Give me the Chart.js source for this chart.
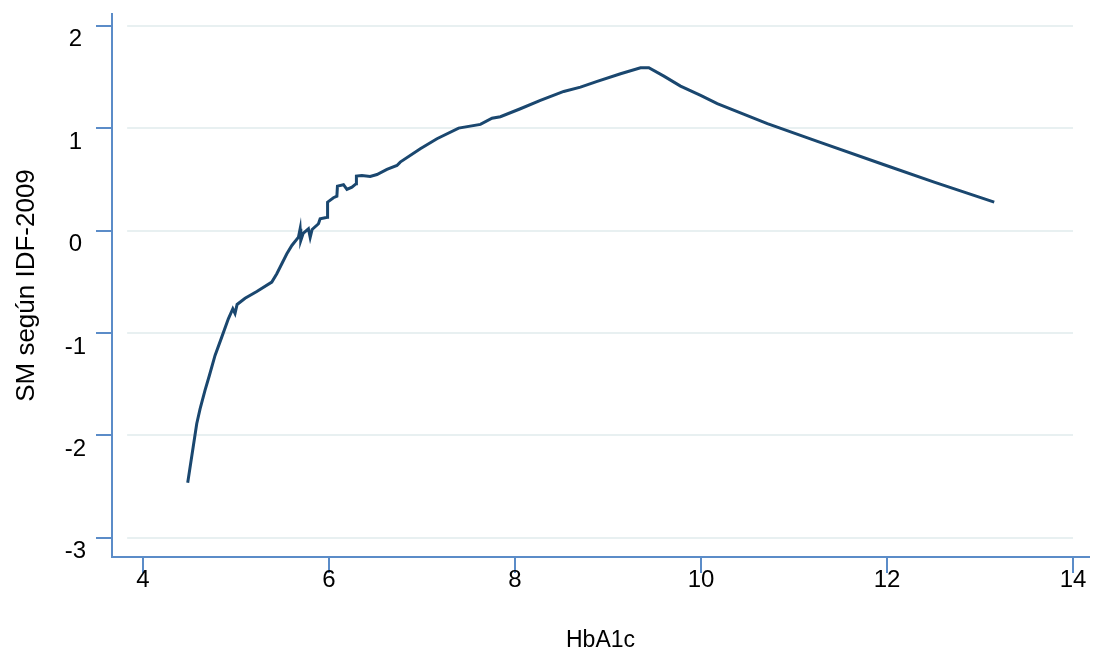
<!DOCTYPE html>
<html>
<head>
<meta charset="utf-8">
<script src="https://cdn.jsdelivr.net/npm/chart.js@4"></script>
<style>
  body { margin: 0; background: #fff; }
  #wrap { width: 1103px; height: 658px; }
</style>
</head>
<body>
<div id="wrap"><canvas id="chart"></canvas></div>
<script>
// values
const hba1c = [4.481, 4.578, 4.614, 4.667, 4.714, 4.775, 4.847, 4.918, 4.966, 4.99, 5.012, 5.098,
    5.224, 5.385, 5.439, 5.493, 5.547, 5.601, 5.672, 5.690, 5.697, 5.722, 5.779, 5.798, 5.819,
    5.887, 5.905, 5.984, 5.985, 6.048, 6.085, 6.091, 6.156, 6.193, 6.247, 6.293, 6.295, 6.354,
    6.443, 6.516, 6.623, 6.731, 6.766, 6.982, 7.161, 7.394, 7.628, 7.753, 7.843, 8.058, 8.273,
    8.524, 8.704, 8.884, 9.135, 9.350, 9.439, 9.601, 9.780, 9.996, 10.175, 10.714, 11.252,
    11.969, 12.507, 13.153];
const smIdf = [-2.463, -1.887, -1.741, -1.562, -1.416, -1.220, -1.041, -0.862, -0.764, -0.810,
    -0.722, -0.661, -0.595, -0.504, -0.422, -0.325, -0.227, -0.146, -0.065, 0.017, -0.097, -0.029,
    0.017, -0.068, 0.010, 0.066, 0.115, 0.130, 0.277, 0.320, 0.335, 0.433, 0.447, 0.401, 0.423,
    0.457, 0.531, 0.538, 0.528, 0.547, 0.596, 0.635, 0.668, 0.798, 0.896, 1.000, 1.036, 1.097,
    1.111, 1.189, 1.270, 1.358, 1.400, 1.456, 1.531, 1.589, 1.589, 1.507, 1.410, 1.319, 1.238,
    1.043, 0.870, 0.642, 0.472, 0.277];
const xTicks = [4, 6, 8, 10, 12, 14];
const yTicks = [-3, -2, -1, 0, 1, 2];

const axisBlue = '#5b8cc8';
const fontFam = "'Liberation Sans', Arial, sans-serif";

// light horizontal grid, inset from the axes like the original
const gridPlugin = {
    id: 'insetGrid',
    beforeDatasetsDraw(chart) {
        const { ctx, scales: { x, y } } = chart;
        const x0 = x.getPixelForValue(3.83);
        const x1 = x.getPixelForValue(14);
        ctx.save();
        ctx.strokeStyle = '#e8f0f1';
        ctx.lineWidth = 2;
        yTicks.forEach(v => {
            const py = Math.round(y.getPixelForValue(v));
            ctx.beginPath();
            ctx.moveTo(x0, py);
            ctx.lineTo(x1, py);
            ctx.stroke();
        });
        ctx.restore();
    }
};

new Chart(document.querySelector('#chart'), {
    type: 'line',
    data: {
        datasets: [{
            data: hba1c.map((v, i) => ({ x: v, y: smIdf[i] })),
            borderColor: '#1a476f',
            borderWidth: 3,
            pointRadius: 0,
            tension: 0
        }]
    },
    options: {
        responsive: true,
        maintainAspectRatio: false,
        animation: false,
        layout: { padding: { top: 14, right: 14, left: 0, bottom: 0 } },
        plugins: { legend: { display: false }, tooltip: { enabled: false } },
        scales: {
            x: {
                type: 'linear',
                min: 3.667,
                max: 14.172,
                afterBuildTicks: s => { s.ticks = xTicks.map(v => ({ value: v })); },
                afterFit: s => { s.height = 101; s.paddingLeft = 0; s.paddingRight = 0; },
                border: { color: axisBlue, width: 2 },
                grid: { drawOnChartArea: false, drawTicks: true, tickLength: 16, color: axisBlue, lineWidth: 2 },
                ticks: { padding: -7, maxRotation: 0, color: '#000', font: { family: fontFam, size: 24 } },
                title: {
                    display: true, text: 'HbA1c', color: '#000',
                    font: { family: fontFam, size: 23 }, padding: { top: 0, bottom: 4 }
                }
            },
            y: {
                type: 'linear',
                min: -3.188,
                max: 2.114,
                afterBuildTicks: s => { s.ticks = yTicks.map(v => ({ value: v })); },
                afterFit: s => { s.width = 112; s.paddingTop = 0; s.paddingBottom = 0; },
                border: { color: axisBlue, width: 2 },
                grid: { drawOnChartArea: false, drawTicks: true, tickLength: 16, color: axisBlue, lineWidth: 2 },
                ticks: {
                    padding: 10, crossAlign: 'center', labelOffset: 14,
                    color: '#000', font: { family: fontFam, size: 24 }
                },
                title: {
                    display: true, text: 'SM según IDF-2009', color: '#000',
                    font: { family: fontFam, size: 26 }, padding: { top: 11, bottom: 0 }
                }
            }
        }
    },
    plugins: [gridPlugin]
});
</script>
</body>
</html>
